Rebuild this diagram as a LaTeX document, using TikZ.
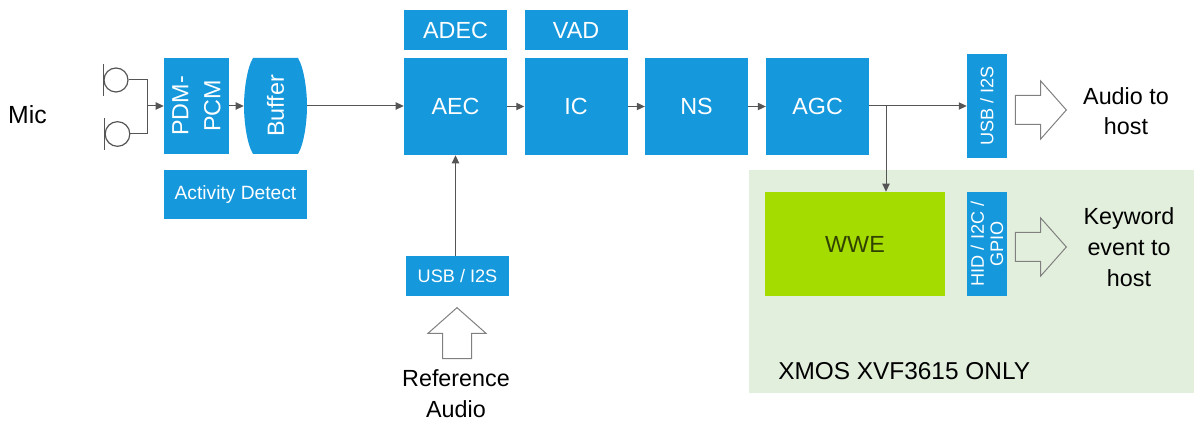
\documentclass[tikz,border=0pt]{standalone}
\usepackage{xcolor}
\usepackage{fontspec}
\setmainfont{Liberation Sans}
\usepackage{tikz}
\usetikzlibrary{positioning}
\usetikzlibrary{arrows.meta}
\usetikzlibrary{shapes.arrows}
\definecolor{boxblue}{RGB}{21,152,220}
\definecolor{wwegreen}{RGB}{165,220,0}
\definecolor{areagreen}{RGB}{227,239,221}
\definecolor{wiregray}{RGB}{85,85,85}
\tikzset{
    blockbox/.style={rectangle,fill=boxblue,text=white,inner sep=0pt,align=center,font=\fontsize{17.5}{20}\selectfont},
    mainbox/.style={blockbox,minimum width=77.25pt,minimum height=72.75pt},
    topbox/.style={blockbox,minimum width=77.25pt,minimum height=30pt},
    portbox/.style={blockbox,rotate=90,minimum width=78pt,minimum height=30pt,font=\fontsize{13.6}{14.5}\selectfont},
    label/.style={inner sep=0pt,align=center,font=\fontsize{17.5}{23}\selectfont},
    flow/.style={-{Triangle[length=6pt,width=5.5pt]},wiregray,line width=0.75pt},
    wire/.style={wiregray,line width=0.75pt},
    bigarrow/.style={single arrow,draw=black!50,line width=0.75pt,inner xsep=0pt,inner ysep=10.5pt,minimum height=38.25pt,single arrow head extend=10.9pt,single arrow tip angle=97}
}
\begin{document}
\begin{tikzpicture}[x=0.75pt,y=-0.75pt,node distance=13.5pt and 13.5pt]
    \useasboundingbox (0,0) rectangle (1194,423);
    \node [rectangle,fill=areagreen,minimum width=333.75pt,minimum height=167.25pt,inner sep=0pt] (Area) at (971.5,281.5) {};
    % microphones
    \node [circle,draw=wiregray,line width=0.9pt,minimum size=18pt,inner sep=0pt] (MicA) at (116,80) {};
    \node [circle,draw=wiregray,line width=0.9pt,minimum size=18.5pt,inner sep=0pt] (MicB) at (117.5,134) {};
    \draw [wiregray,line width=1pt] (MicA.west) ++(0,-16) -- ++(0,32);
    \draw [wiregray,line width=1pt] (MicB.west) ++(0,-16) -- ++(0,32);
    \coordinate (Join) at (147,106);
    \node [label,font=\fontsize{18.6}{23}\selectfont] (Mic) at (27.5,115) {Mic};
    % front end
    \node [blockbox,rotate=90,minimum width=72pt,minimum height=48.75pt,font=\fontsize{17.5}{24}\selectfont] (PDM) at (196.5,106) {PDM-\\PCM};
    \fill [boxblue] (253,58) -- (298,58) .. controls (304,68) and (307,90) .. (307,106) .. controls (307,122) and (304,144) .. (298,154) -- (253,154) .. controls (247,144) and (244,122) .. (244,106) .. controls (244,90) and (247,68) .. (253,58) -- cycle;
    \node [blockbox,rotate=90,fill=none,minimum width=72pt,minimum height=47.25pt] (Buffer) at (275.5,106) {Buffer};
    \node [blockbox,minimum width=107.25pt,minimum height=36.75pt,font=\fontsize{14.4}{16}\selectfont] (Activity) at (235.5,194.5) {Activity Detect};
    % main chain
    \node [mainbox] (AEC) at (455.5,106.5) {AEC};
    \node [mainbox,right=12.75pt of AEC] (IC) {IC};
    \node [mainbox,right=12.75pt of IC] (NS) {NS};
    \node [mainbox,right=13.1pt of NS] (AGC) {AGC};
    \node [topbox,above=5.6pt of AEC] (ADEC) {ADEC};
    \node [topbox,above=5.6pt of IC] (VAD) {VAD};
    % outputs
    \node [portbox] (USBOut) at (987,106) {USB / I2S};
    \node [portbox] (HID) at (987,244) {HID / I2C /\\GPIO};
    \node [rectangle,fill=wwegreen,minimum width=135pt,minimum height=78pt,inner sep=0pt,text=black!70!wwegreen,font=\fontsize{17.5}{20}\selectfont] (WWE) at (855,244) {WWE};
    \node [bigarrow,anchor=tip] (AudioArrow) at (1067,110) {};
    \node [bigarrow,anchor=tip] (KeyArrow) at (1067,247) {};
    \node [label] (Audio) at (1126,111) {Audio to\\host};
    \node [label] (Keyword) at (1129,247) {Keyword\\event to\\host};
    \node [label,anchor=west,font=\fontsize{18.3}{23}\selectfont] (Only) at (778,371) {XMOS XVF3615 ONLY};
    % reference input
    \node [blockbox,minimum width=77.25pt,minimum height=30pt,font=\fontsize{13.6}{16}\selectfont] (USBIn) at (457.5,276) {USB / I2S};
    \node [bigarrow,rotate=90,anchor=tip] (RefArrow) at (457,307) {};
    \node [label] (Ref) at (456,394) {Reference\\Audio};
    % connectors
    \draw [wire] (MicA.east) -| (Join);
    \draw [wire] (MicB.east) -| (Join);
    \draw [flow] (Join) -- (Join -| PDM.north);
    \draw [flow] (PDM.south) -- (Buffer.north);
    \draw [flow] (Buffer.south) -- (Buffer.south -| AEC.west);
    \draw [flow] (AEC) -- (IC);
    \draw [flow] (IC) -- (NS);
    \draw [flow] (NS) -- (AGC);
    \draw [flow] (AGC.east |- USBOut.north) -- (USBOut.north);
    \coordinate (Tap) at (886,106);
    \draw [flow] (Tap) -- (Tap |- WWE.north);
    \draw [flow] (USBIn.north -| AEC.south) -- (AEC.south);
\end{tikzpicture}
\end{document}
